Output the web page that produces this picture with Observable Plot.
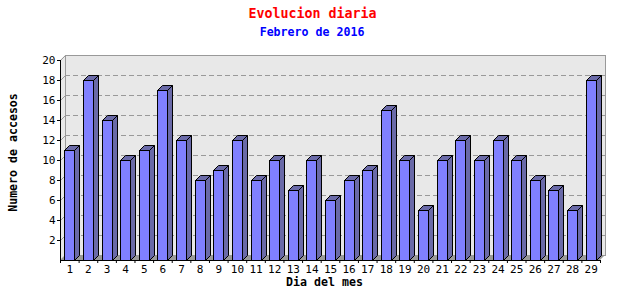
<!DOCTYPE html>
<html><head><meta charset="utf-8">
<script src="https://cdn.jsdelivr.net/npm/d3@7"></script>
<script src="https://cdn.jsdelivr.net/npm/@observablehq/plot@0.6"></script>
<style>body{margin:0;background:#fff}svg{display:block}</style>
</head><body><div id="chart"></div>
<script>
const title = "Evolucion diaria";
const subtitle = "Febrero de 2016";
const xLabel = "Dia del mes";
const yLabel = "Numero de accesos";
const days = [1,2,3,4,5,6,7,8,9,10,11,12,13,14,15,16,17,18,19,20,21,22,23,24,25,26,27,28,29];
const accesos = [11,18,14,10,11,17,12,8,9,12,8,10,7,10,6,8,9,15,10,5,10,12,10,12,10,8,7,5,18];
const yTicks = [2,4,6,8,10,12,14,16,18,20];

const data = days.map((d, i) => ({day: d, value: accesos[i]}));
const boundaries = [...days.map(d => d - 0.5), days[days.length - 1] + 0.5];

const D = 5, HW = 5;
const FRONT = "#8080ff", SIDE = "#6a6aa8", WALL = "#e8e8e8", FLOOR = "#9a9a9a";

function bars3d(index, scales, values) {
  const g = d3.create("svg:g");
  for (const i of index) {
    const cx = Math.round((values.x1[i] + values.x2[i]) / 2);
    const t = Math.round(Math.min(values.y1[i], values.y2[i])) + 0.5;
    const b = Math.round(Math.max(values.y1[i], values.y2[i])) + 0.5;
    const l = cx - HW + 0.5, r = cx + HW + 0.5;
    g.append("path").attr("d", `M${r},${t}L${r + D},${t - D}L${r + D},${b - D}L${r},${b}Z`)
      .attr("fill", SIDE).attr("stroke", "#000");
    g.append("path").attr("d", `M${l},${t}L${l + D},${t - D}L${r + D},${t - D}L${r},${t}Z`)
      .attr("fill", SIDE).attr("stroke", "#000");
    g.append("rect").attr("x", l).attr("y", t).attr("width", r - l).attr("height", b - t)
      .attr("fill", FRONT).attr("stroke", "#000");
  }
  return g.node();
}

function walls(index, scales, values, dims) {
  const g = d3.create("svg:g");
  const x0 = dims.marginLeft, x1 = dims.width - dims.marginRight;
  const yt = dims.marginTop, yb = dims.height - dims.marginBottom;
  g.append("path").attr("d", `M${x0},${yb}L${x0},${yt}L${x0 + D},${yt - D}L${x0 + D},${yb - D}Z`)
    .attr("fill", WALL);
  g.append("path").attr("d", `M${x0},${yb}L${x0 + D},${yb - D}L${x1 + D},${yb - D}L${x1},${yb}Z`)
    .attr("fill", FLOOR);
  for (const i of index) {
    const y = Math.round(values.y[i]) + 0.5;
    g.append("path").attr("d", `M${x0 + 0.5},${y}L${x0 + D + 0.5},${y - D}`)
      .attr("stroke", "#999").attr("fill", "none");
  }
  return g.node();
}

const chart = Plot.plot({
  width: 640,
  height: 300,
  marginLeft: 60,
  marginRight: 40,
  marginTop: 60,
  marginBottom: 40,
  style: {fontFamily: "'DejaVu Sans Mono', monospace", fontSize: "10px", color: "#000", background: "#fff"},
  x: {type: "linear", domain: [0.5, 29.5], label: null},
  y: {domain: [0, 20], label: null},
  marks: [
    Plot.frame({dx: D, dy: -D, fill: WALL, stroke: "#999"}),
    Plot.ruleY(yTicks, {y: d => d, render: walls}),
    Plot.ruleY(yTicks.filter(v => v < 20), {y: d => d, dx: D, dy: -D, stroke: "#999", strokeDasharray: "5,3"}),
    Plot.rectY(data, {x1: d => d.day - 0.5, x2: d => d.day + 0.5, y: "value", render: bars3d}),
    Plot.ruleX([0.5], {stroke: "#000"}),
    Plot.ruleY([0], {stroke: "#000"}),
    Plot.axisY({ticks: yTicks, tickSize: 3, tickPadding: 2, label: null, fontSize: 11}),
    Plot.axisX({ticks: boundaries, tickSize: 3, tickFormat: () => "", label: null}),
    Plot.axisX({ticks: days, tickSize: 0, tickPadding: 5, tickFormat: d => String(d), label: null, fontSize: 11}),
    Plot.text([title], {text: d => d, frameAnchor: "top", lineAnchor: "middle", textAnchor: "middle", dx: -18, dy: -46.5, fill: "#ff0000", fontSize: 13.3, fontWeight: "bold"}),
    Plot.text([subtitle], {text: d => d, frameAnchor: "top", lineAnchor: "middle", textAnchor: "middle", dx: -18.5, dy: -28.5, fill: "#0000ff", fontSize: 11.6, fontWeight: "bold"}),
    Plot.text([xLabel], {text: d => d, frameAnchor: "bottom", lineAnchor: "middle", textAnchor: "middle", dx: -6, dy: 22, fill: "#000", fontSize: 11.6, fontWeight: "bold"}),
    Plot.text([yLabel], {text: d => d, frameAnchor: "left", lineAnchor: "middle", textAnchor: "middle", dx: -47, dy: -8, rotate: -90, fill: "#000", fontSize: 11.6, fontWeight: "bold"})
  ]
});
document.getElementById("chart").append(chart);
</script>
</body></html>
